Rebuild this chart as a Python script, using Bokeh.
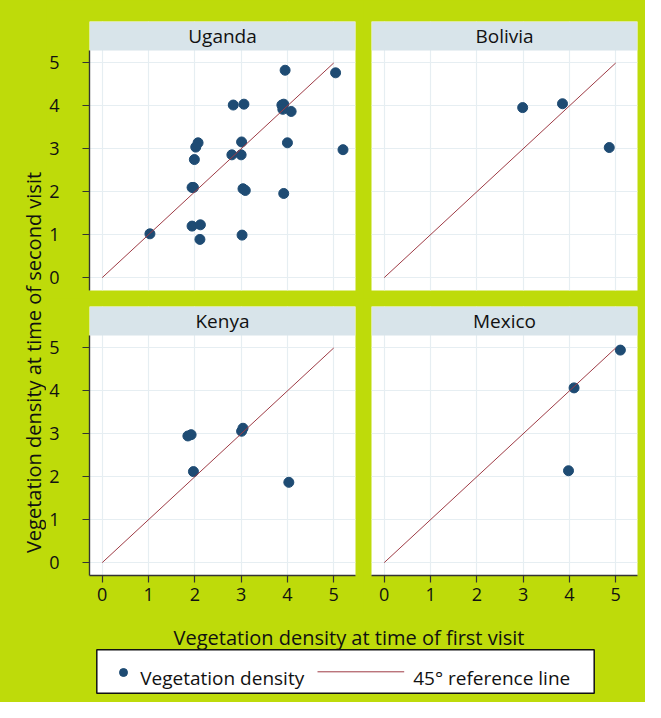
import numpy as np
from bokeh.plotting import figure
from bokeh.layouts import row, column
from bokeh.models import Range1d, FixedTicker
from bokeh.core.properties import value
from bokeh.embed import file_html
from bokeh.resources import INLINE

# ---------------- data ----------------
countries = ["Uganda", "Bolivia", "Kenya", "Mexico"]

uganda_first = [3.95, 5.04, 2.83, 3.06, 3.88, 3.92, 3.90, 4.08, 2.07, 2.02, 1.99, 3.01, 4.00,
                5.20, 2.80, 3.00, 1.94, 1.97, 3.04, 3.09, 3.92, 1.03, 1.94, 2.12, 2.11, 3.02]
uganda_second = [4.83, 4.77, 4.02, 4.04, 4.02, 4.04, 3.92, 3.87, 3.14, 3.04, 2.75, 3.16, 3.14,
                 2.98, 2.86, 2.86, 2.10, 2.10, 2.07, 2.03, 1.96, 1.02, 1.20, 1.23, 0.89, 0.99]
bolivia_first = [2.99, 3.85, 4.86]
bolivia_second = [3.96, 4.05, 3.03]
kenya_first = [1.85, 1.92, 1.97, 3.01, 3.04, 4.03]
kenya_second = [2.95, 2.98, 2.12, 3.06, 3.13, 1.87]
mexico_first = [5.10, 4.10, 3.98]
mexico_second = [4.95, 4.07, 2.14]

ref_line_x = [0, 5]
ref_line_y = [0, 5]
axis_ticks = [0, 1, 2, 3, 4, 5]

x_title = "Vegetation density at time of first visit"
y_title = "Vegetation density at time of second visit"
legend_labels = ["Vegetation density", "45\u00b0 reference line"]

# ---------------- style ----------------
GREEN = "#bedb0a"
HEAD = "#d8e4ea"
PT = "#1e4b73"
LN = "#9e3b45"
GRID = "#e6eef2"
AX = "#333333"
FONT = "Open Sans"

X0, X1 = -0.275, 5.47
Y0, Y1 = -0.30, 5.29
FW = 266          # frame width
PH = 240          # plot height (data part)
HH = 29           # header height
FH = PH + HH      # frame height
LEFT_B = 43


def panel(name, xs, ys, left_axis, bottom_axis, bl, br, bt, bb):
    ytop = Y0 + (Y1 - Y0) * FH / PH
    p = figure(width=bl + FW + br, height=bt + FH + bb,
               x_range=Range1d(X0, X1), y_range=Range1d(Y0, ytop),
               x_axis_location="below" if bottom_axis else None,
               y_axis_location="left" if left_axis else None,
               output_backend="svg", toolbar_location=None,
               min_border_left=bl, min_border_right=br,
               min_border_top=bt, min_border_bottom=bb)
    p.border_fill_color = GREEN
    p.background_fill_color = "white"
    p.outline_line_color = None
    for g in (p.xgrid, p.ygrid):
        g.ticker = FixedTicker(ticks=axis_ticks)
        g.grid_line_color = GRID
        g.grid_line_width = 1.2
    for ax in p.axis:
        ax.ticker = FixedTicker(ticks=axis_ticks)
        ax.axis_line_color = AX
        ax.axis_line_width = 1.4
        ax.major_tick_line_color = AX
        ax.major_tick_line_width = 1.2
        ax.major_tick_out = 7
        ax.major_tick_in = 0
        ax.minor_tick_line_color = None
        ax.major_label_text_font = FONT
        ax.major_label_text_font_size = "18px"
        ax.major_label_text_color = "#111111"
    if left_axis:
        p.yaxis.bounds = (Y0, Y1)
        p.yaxis.major_label_standoff = 23
    if bottom_axis:
        p.xaxis.major_label_standoff = 5

    # header strip
    p.extra_x_ranges = {"hx": Range1d(0, 1)}
    p.extra_y_ranges = {"hy": Range1d(0, FH)}
    p.quad(left=0, right=1, bottom=PH, top=FH, x_range_name="hx", y_range_name="hy",
           fill_color=HEAD, line_color=None)
    p.text(x=[0.5], y=[PH + HH / 2], text=[name], x_range_name="hx", y_range_name="hy",
           text_align="center", text_baseline="middle", text_font=value(FONT),
           text_font_size="19px", text_color="#111111")

    p.scatter(xs, ys, size=10, fill_color=PT, line_color=PT)
    p.line(ref_line_x, ref_line_y, line_color=LN, line_width=1)
    return p


TOP_H = 21 + FH + 8
BOT_BB = 40
BOT_H = 8 + FH + BOT_BB
TOTAL_W = 645
STRIP_W = 89 - LEFT_B

pu = panel(countries[0], uganda_first, uganda_second, True, False, LEFT_B, 8, 21, 8)
pb = panel(countries[1], bolivia_first, bolivia_second, False, False, 8, 8, 21, 8)
pk = panel(countries[2], kenya_first, kenya_second, True, True, LEFT_B, 8, 8, BOT_BB)
pm = panel(countries[3], mexico_first, mexico_second, False, True, 8, 8, 8, BOT_BB)


def blank(w, h):
    f = figure(width=w, height=h, x_range=Range1d(0, w), y_range=Range1d(0, h),
               x_axis_location=None, y_axis_location=None, min_border=0,
               output_backend="svg", toolbar_location=None)
    f.grid.visible = False
    f.background_fill_color = GREEN
    f.border_fill_color = GREEN
    f.outline_line_color = None
    return f


strip_h = TOP_H + BOT_H
strip = blank(STRIP_W, strip_h)
strip.text(x=[33], y=[strip_h - 362], text=[y_title], angle=np.pi / 2,
           text_align="center", text_baseline="middle", text_font=value(FONT),
           text_font_size="20px", text_color="#111111")

BOTTOM_H = 702 - strip_h
bottom = blank(TOTAL_W, BOTTOM_H)
bottom.text(x=[348.5], y=[BOTTOM_H - 22], text=[x_title], text_align="center",
            text_baseline="alphabetic", text_font=value(FONT), text_font_size="20px",
            text_color="#111111")
# legend box
bottom.quad(left=96.3, right=593.7, bottom=BOTTOM_H - 77.7, top=BOTTOM_H - 34.3,
            fill_color="white", line_color="#111111", line_width=1.5)
bottom.scatter(x=[123], y=[BOTTOM_H - 57], size=8, fill_color=PT, line_color=PT)
bottom.text(x=[139.7], y=[BOTTOM_H - 62.7], text=[legend_labels[0]], text_align="left",
            text_baseline="alphabetic", text_font=value(FONT), text_font_size="19px",
            text_color="#111111")
bottom.line(x=[317, 403.7], y=[BOTTOM_H - 56.3, BOTTOM_H - 56.3], line_color=LN, line_width=1)
bottom.text(x=[412.7], y=[BOTTOM_H - 62.7], text=[legend_labels[1]], text_align="left",
            text_baseline="alphabetic", text_font=value(FONT), text_font_size="19px",
            text_color="#111111")

layout = column(row(strip, column(row(pu, pb), row(pk, pm))), bottom,
                styles={"background-color": GREEN})

open("out.html", "w").write(file_html(layout, INLINE))
